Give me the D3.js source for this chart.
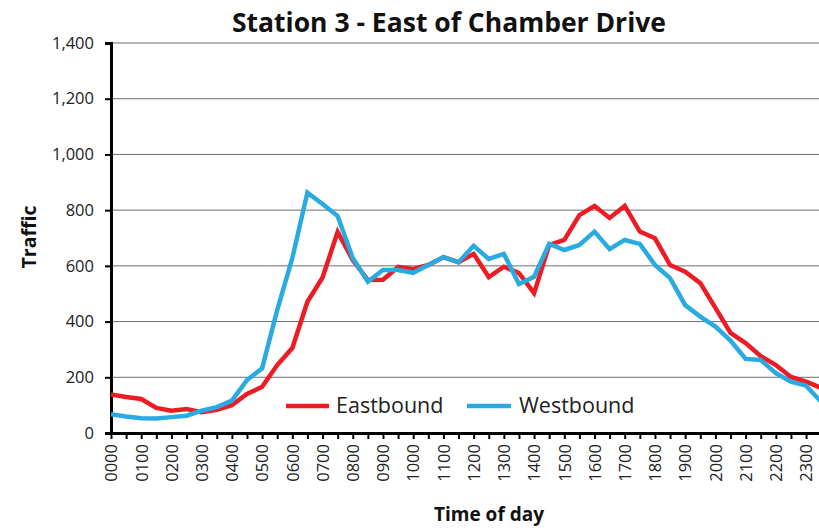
<!DOCTYPE html>
<html>
<head>
<meta charset="utf-8">
<script src="https://cdn.jsdelivr.net/npm/d3@7/dist/d3.min.js"></script>
<style>
  html, body { margin: 0; padding: 0; background: #fff; }
  svg { display: block; font-family: "Open Sans", "Noto Sans", sans-serif; }
</style>
</head>
<body>
<svg id="chart" width="819" height="528"></svg>
<script>
// Half-hour time slots, 0000 to 2330
const times = ["0000","0030","0100","0130","0200","0230","0300","0330","0400","0430",
  "0500","0530","0600","0630","0700","0730","0800","0830","0900","0930",
  "1000","1030","1100","1130","1200","1230","1300","1330","1400","1430",
  "1500","1530","1600","1630","1700","1730","1800","1830","1900","1930",
  "2000","2030","2100","2130","2200","2230","2300","2330"];

const eastbound = [138,129,122,90,80,86,75,83,100,140,
  166,244,305,471,558,722,621,549,550,596,
  589,603,631,613,643,560,597,574,502,675,
  693,782,815,772,815,723,699,603,579,538,
  449,359,323,276,244,201,184,162];

const westbound = [67,59,53,52,57,62,80,93,116,190,
  232,441,628,863,822,779,628,543,585,585,
  575,603,631,613,672,625,643,535,561,679,
  657,675,723,660,693,679,603,556,459,418,
  382,332,266,262,215,184,170,112];

const yTicks = [0,200,400,600,800,1000,1200,1400];
const labelTimes = times.filter((t, i) => i % 2 === 0);

const seriesList = [
  { name: "Eastbound", values: eastbound, color: "#ED1C24" },
  { name: "Westbound", values: westbound, color: "#29ABE2" }
];

const svg = d3.select("#chart");
const plotLeft = 111, plotTop = 43, plotBottom = 433;
const step = 15.11;
const plotRight = plotLeft + step * (times.length - 1);

const x = d3.scalePoint().domain(times).range([plotLeft, plotRight]);
const y = d3.scaleLinear().domain([0, 1400]).range([plotBottom, plotTop]);

// horizontal gridlines
svg.append("g")
  .selectAll("line")
  .data(yTicks.filter(d => d > 0))
  .join("line")
  .attr("x1", plotLeft).attr("x2", 830)
  .attr("y1", d => y(d)).attr("y2", d => y(d))
  .attr("stroke", "#6e6e6e").attr("stroke-width", 1);

// y axis
const yAxis = svg.append("g")
  .attr("transform", `translate(${plotLeft},0)`)
  .call(d3.axisLeft(y).tickValues(yTicks).tickSize(6).tickPadding(11)
    .tickFormat(d3.format(",")));
yAxis.select(".domain").attr("stroke", "#000").attr("stroke-width", 3);
yAxis.selectAll(".tick line").attr("stroke", "#000").attr("stroke-width", 2);
yAxis.selectAll(".tick text")
  .attr("font-size", 16.5).attr("fill", "#222")
  .attr("font-family", "Open Sans, sans-serif");

// x axis: tick at every half hour, label on the hour
const xAxis = svg.append("g")
  .attr("transform", `translate(0,${plotBottom})`)
  .call(d3.axisBottom(x).tickValues(times).tickSize(6).tickSizeOuter(0)
    .tickFormat(t => labelTimes.includes(t) ? t : ""));
xAxis.select(".domain").attr("stroke", "#000").attr("stroke-width", 3);
xAxis.selectAll(".tick line").attr("stroke", "#000").attr("stroke-width", 2);
xAxis.selectAll(".tick text")
  .attr("font-size", 16.5).attr("fill", "#222")
  .attr("font-family", "Open Sans, sans-serif")
  .attr("transform", "rotate(-90)")
  .attr("text-anchor", "end")
  .attr("dy", "0.35em")
  .attr("x", -11).attr("y", 0);

// series lines
const line = d3.line()
  .x((d, i) => x(times[i]))
  .y(d => y(d));

svg.append("g")
  .selectAll("path")
  .data(seriesList)
  .join("path")
  .attr("d", s => line(s.values))
  .attr("fill", "none")
  .attr("stroke", s => s.color)
  .attr("stroke-width", 4.5)
  .attr("stroke-linejoin", "miter");

// legend
const legendItems = [
  { x1: 286, x2: 329, tx: 336 },
  { x1: 467, x2: 511, tx: 519 }
];
const legend = svg.append("g");
seriesList.forEach((s, i) => {
  const p = legendItems[i];
  legend.append("line")
    .attr("x1", p.x1).attr("x2", p.x2)
    .attr("y1", 406).attr("y2", 406)
    .attr("stroke", s.color).attr("stroke-width", 4.5);
  legend.append("text")
    .attr("x", p.tx).attr("y", 413)
    .attr("font-size", 21.5).attr("fill", "#222")
    .text(s.name);
});

// title and axis titles
svg.append("text")
  .attr("x", 449).attr("y", 32)
  .attr("text-anchor", "middle")
  .attr("font-size", 26.5).attr("font-weight", "bold").attr("fill", "#111")
  .text("Station 3 - East of Chamber Drive");

svg.append("text")
  .attr("transform", "translate(36,237) rotate(-90)")
  .attr("text-anchor", "middle")
  .attr("font-size", 19.5).attr("font-weight", "bold").attr("fill", "#111")
  .text("Traffic");

svg.append("text")
  .attr("x", 489).attr("y", 521)
  .attr("text-anchor", "middle")
  .attr("font-size", 19).attr("font-weight", "bold").attr("fill", "#111")
  .text("Time of day");
</script>
</body>
</html>
